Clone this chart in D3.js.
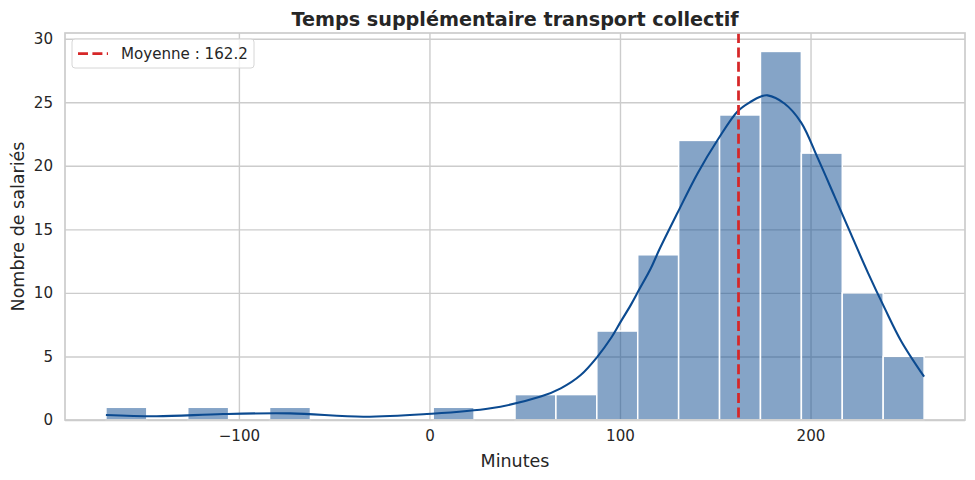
<!DOCTYPE html>
<html>
<head>
<meta charset="utf-8">
<script src="https://cdn.jsdelivr.net/npm/d3@7"></script>
<style>
  body { margin: 0; background: #fff; }
  svg { display: block; font-family: "DejaVu Sans", sans-serif; }
  .domain { display: none; }
</style>
</head>
<body>
<svg id="chart" width="975" height="480"></svg>
<script>
// histogram bins (minutes)
const binStart = -169.8;
const binWidth = 21.47;
const counts = [1, 0, 1, 0, 1, 0, 0, 0, 1, 0, 2, 2, 7, 13, 22, 24, 29, 21, 10, 5];

// kde curve (x in minutes, y in count scale)
const kdeX = [-169.8, -143.2, -108.3, -73.1, -34.7, -3.2, 32.1, 58.4, 68.9, 79.4, 88.2, 95.2, 100.4, 105.7,
  110.0, 116.2, 120.6, 130.2, 140.7, 151.3, 161.8, 168.8, 174.0, 177.5, 186.3, 195.1, 203.8, 212.6,
  221.3, 230.1, 238.9, 247.6, 259.6];
const kdeY = [0.39, 0.29, 0.47, 0.52, 0.26, 0.45, 0.92, 1.84, 2.49, 3.54, 4.99, 6.43, 7.74, 9.06,
  10.24, 11.94, 13.39, 16.3, 19.4, 22.05, 24.3, 25.06, 25.46, 25.54, 24.9, 23.4, 20.6, 17.6,
  14.6, 11.6, 8.8, 6.2, 3.41];

const meanValue = 162.2;
const xTicks = [-100, 0, 100, 200];
const yTicks = [0, 5, 10, 15, 20, 25, 30];

const width = 975, height = 480;
const margin = { top: 33, right: 10, bottom: 60, left: 65 };
const blue = '#0b4a90';
const red = '#d62728';
const ink = '#262626';

const svg = d3.select('#chart');

const binEnd = binStart + binWidth * counts.length;
const pad = (binEnd - binStart) * 0.05;
const x = d3.scaleLinear()
  .domain([binStart - pad, binEnd + pad])
  .range([margin.left, width - margin.right]);
const y = d3.scaleLinear()
  .domain([0, d3.max(counts) * 1.05])
  .range([height - margin.bottom, margin.top]);

// grid + tick labels
svg.append('g')
  .attr('transform', `translate(0,${height - margin.bottom})`)
  .call(d3.axisBottom(x).tickValues(xTicks).tickSize(-(height - margin.top - margin.bottom)).tickPadding(10))
  .attr('font-size', 15.1)
  .attr('font-family', null)
  .call(g => g.selectAll('.tick text').attr('fill', ink))
  .call(g => g.selectAll('.tick line').attr('stroke', '#cccccc').attr('stroke-width', 1.4));

svg.append('g')
  .attr('transform', `translate(${margin.left},0)`)
  .call(d3.axisLeft(y).tickValues(yTicks).tickSize(-(width - margin.left - margin.right)).tickPadding(12))
  .attr('font-size', 15.1)
  .attr('font-family', null)
  .call(g => g.selectAll('.tick text').attr('fill', ink))
  .call(g => g.selectAll('.tick line').attr('stroke', '#cccccc').attr('stroke-width', 1.4));

// bars
const bars = counts.map((c, i) => ({ x0: binStart + i * binWidth, x1: binStart + (i + 1) * binWidth, c }));
svg.append('g')
  .selectAll('rect')
  .data(bars.filter(d => d.c > 0))
  .join('rect')
  .attr('x', d => x(d.x0))
  .attr('y', d => y(d.c))
  .attr('width', d => x(d.x1) - x(d.x0))
  .attr('height', d => y(0) - y(d.c))
  .attr('fill', blue)
  .attr('fill-opacity', 0.5)
  .attr('stroke', '#fff')
  .attr('stroke-width', 1.5);

// kde
const line = d3.line()
  .x((d, i) => x(kdeX[i]))
  .y(d => y(d))
  .curve(d3.curveCatmullRom.alpha(0.5));
svg.append('path')
  .attr('d', line(kdeY))
  .attr('fill', 'none')
  .attr('stroke', blue)
  .attr('stroke-width', 2.1);

// mean line
svg.append('line')
  .attr('x1', x(meanValue)).attr('x2', x(meanValue))
  .attr('y1', margin.top).attr('y2', height - margin.bottom)
  .attr('stroke', red)
  .attr('stroke-width', 2.75)
  .attr('stroke-dasharray', '10,4.4');

// frame
svg.append('rect')
  .attr('x', margin.left).attr('y', margin.top)
  .attr('width', width - margin.left - margin.right)
  .attr('height', height - margin.top - margin.bottom)
  .attr('fill', 'none')
  .attr('stroke', '#cccccc')
  .attr('stroke-width', 1.7);

// title + labels
svg.append('text')
  .attr('x', (margin.left + width - margin.right) / 2)
  .attr('y', 26)
  .attr('text-anchor', 'middle')
  .attr('font-size', 19.2)
  .attr('font-weight', 'bold')
  .attr('fill', ink)
  .text('Temps supplémentaire transport collectif');

svg.append('text')
  .attr('x', (margin.left + width - margin.right) / 2)
  .attr('y', 467)
  .attr('text-anchor', 'middle')
  .attr('font-size', 17.5)
  .attr('fill', ink)
  .text('Minutes');

svg.append('text')
  .attr('transform', `translate(24,${(margin.top + height - margin.bottom) / 2}) rotate(-90)`)
  .attr('text-anchor', 'middle')
  .attr('font-size', 17.5)
  .attr('fill', ink)
  .text('Nombre de salariés');

// legend
const lg = svg.append('g').attr('transform', 'translate(72,39)');
lg.append('rect')
  .attr('width', 182).attr('height', 29).attr('rx', 3)
  .attr('fill', '#fff').attr('fill-opacity', 0.8)
  .attr('stroke', '#d6d6d6');
lg.append('line')
  .attr('x1', 6).attr('x2', 36).attr('y1', 14.5).attr('y2', 14.5)
  .attr('stroke', red).attr('stroke-width', 2.75).attr('stroke-dasharray', '10,4.4');
lg.append('text')
  .attr('x', 49).attr('y', 20)
  .attr('font-size', 15.1)
  .attr('fill', ink)
  .text('Moyenne : 162.2');
</script>
</body>
</html>
